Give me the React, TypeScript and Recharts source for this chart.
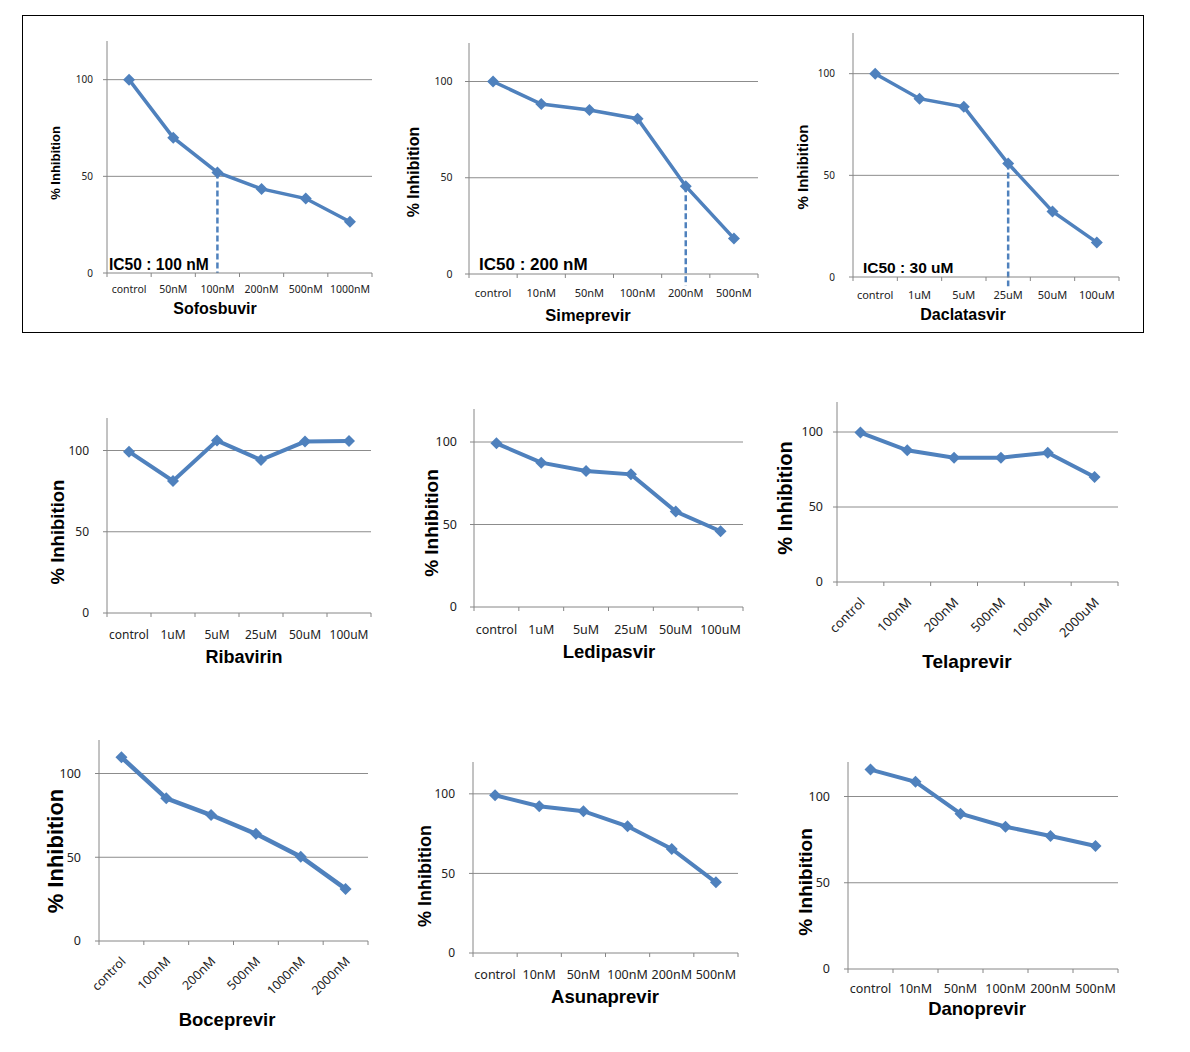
import React from 'react';
import { LineChart, Line, XAxis, YAxis, ReferenceLine } from 'recharts';

// ---------- data ----------
const sofosbuvirLabels = ['control', '50nM', '100nM', '200nM', '500nM', '1000nM'];
const sofosbuvirValues = [100, 70, 52, 43.5, 38.5, 26.5];
const sofosbuvirIC50 = 2;

const simeprevirLabels = ['control', '10nM', '50nM', '100nM', '200nM', '500nM'];
const simeprevirValues = [100, 88.3, 85.2, 80.7, 45.6, 18.5];
const simeprevirIC50 = 4;

const daclatasvirLabels = ['control', '1uM', '5uM', '25uM', '50uM', '100uM'];
const daclatasvirValues = [100, 87.7, 83.7, 55.8, 32.2, 17];
const daclatasvirIC50 = 3;

const ribavirinLabels = ['control', '1uM', '5uM', '25uM', '50uM', '100uM'];
const ribavirinValues = [99.3, 81.3, 106.1, 94.2, 105.5, 105.9];

const ledipasvirLabels = ['control', '1uM', '5uM', '25uM', '50uM', '100uM'];
const ledipasvirValues = [99.2, 87.5, 82.4, 80.4, 57.9, 45.9];

const telaprevirLabels = ['control', '100nM', '200nM', '500nM', '1000nM', '2000uM'];
const telaprevirValues = [99.6, 87.8, 82.9, 82.9, 86.2, 70];

const boceprevirLabels = ['control', '100nM', '200nM', '500nM', '1000nM', '2000nM'];
const boceprevirValues = [109.7, 85.2, 75.2, 64, 50.3, 31.1];

const asunaprevirLabels = ['control', '10nM', '50nM', '100nM', '200nM', '500nM'];
const asunaprevirValues = [99.1, 92.2, 89.1, 79.6, 65.4, 44.4];

const danoprevirLabels = ['control', '10nM', '50nM', '100nM', '200nM', '500nM'];
const danoprevirValues = [115.6, 108.5, 90, 82.5, 77.1, 71.3];

const yTicks = [0, 50, 100];
const gridValues = [50, 100];
const yMax = 120;

// ---------- style ----------
const BLUE = '#4F81BD';
const AXIS_GRAY = '#868686';
const GRID_GRAY = '#8C8C8C';
const TEXT = '#222';
const TICK_FONT = '"Noto Sans", "DejaVu Sans", sans-serif';
const BOLD_FONT = '"Liberation Sans", Arial, sans-serif';

const panels: any[] = [
  { title: 'Sofosbuvir', labels: sofosbuvirLabels, values: sofosbuvirValues, x: 107, y: 41, w: 265, h: 232,
    tickFont: 10.5, tickOffset: 16, yTickFont: 10, yTickGap: 10, lw: 3.5,
    ylabel: { cx: 55, cy: 163, size: 13 }, titlePos: { cx: 215, cy: 309, size: 16 },
    ic50: { idx: sofosbuvirIC50, text: 'IC50 : 100 nM', left: 109, cy: 265, size: 15.6, bottom: 0 } },
  { title: 'Simeprevir', labels: simeprevirLabels, values: simeprevirValues, x: 469, y: 43, w: 289, h: 231,
    tickFont: 11, tickOffset: 19, yTickFont: 10.5, yTickGap: 12.5, lw: 3.5,
    ylabel: { cx: 414, cy: 172, size: 16 }, titlePos: { cx: 588, cy: 315, size: 16.5 },
    ic50: { idx: simeprevirIC50, text: 'IC50 : 200 nM', left: 479, cy: 264, size: 17, bottom: -6 } },
  { title: 'Daclatasvir', labels: daclatasvirLabels, values: daclatasvirValues, x: 853, y: 33, w: 266, h: 244,
    tickFont: 11, tickOffset: 18, yTickFont: 10, yTickGap: 14, lw: 3.5,
    ylabel: { cx: 802, cy: 167, size: 15 }, titlePos: { cx: 963, cy: 315, size: 16 },
    ic50: { idx: daclatasvirIC50, text: 'IC50 : 30 uM', left: 863, cy: 268, size: 15.5, bottom: -4.5 } },
  { title: 'Ribavirin', labels: ribavirinLabels, values: ribavirinValues, x: 107, y: 418, w: 264, h: 195,
    tickFont: 12, tickOffset: 22, yTickFont: 12, yTickGap: 14, lw: 4,
    ylabel: { cx: 58, cy: 532, size: 18.5 }, titlePos: { cx: 244, cy: 657, size: 18 } },
  { title: 'Ledipasvir', labels: ledipasvirLabels, values: ledipasvirValues, x: 474, y: 409, w: 269, h: 198,
    tickFont: 12.5, tickOffset: 23, yTickFont: 12.5, yTickGap: 13, lw: 4,
    ylabel: { cx: 431, cy: 523, size: 19 }, titlePos: { cx: 609, cy: 652, size: 18.5 } },
  { title: 'Telaprevir', labels: telaprevirLabels, values: telaprevirValues, x: 837, y: 402, w: 281, h: 180,
    rotated: true, tickFont: 13, yTickFont: 12.5, yTickGap: 10, lw: 4,
    ylabel: { cx: 785, cy: 498, size: 20 }, titlePos: { cx: 967, cy: 661, size: 19 } },
  { title: 'Boceprevir', labels: boceprevirLabels, values: boceprevirValues, x: 99, y: 740, w: 269, h: 201,
    rotated: true, tickFont: 12.5, yTickFont: 12.5, yTickGap: 14, lw: 4.5,
    ylabel: { cx: 56, cy: 851, size: 22 }, titlePos: { cx: 227, cy: 1020, size: 18.5 } },
  { title: 'Asunaprevir', labels: asunaprevirLabels, values: asunaprevirValues, x: 473, y: 762, w: 265, h: 191,
    tickFont: 12.5, tickOffset: 22, yTickFont: 12, yTickGap: 14, lw: 4,
    ylabel: { cx: 425, cy: 876, size: 18 }, titlePos: { cx: 605, cy: 997, size: 18.5 } },
  { title: 'Danoprevir', labels: danoprevirLabels, values: danoprevirValues, x: 848, y: 762, w: 270, h: 207,
    tickFont: 12.5, tickOffset: 20, yTickFont: 12.5, yTickGap: 14, lw: 4,
    ylabel: { cx: 805, cy: 882, size: 19 }, titlePos: { cx: 977, cy: 1009, size: 18.5 } },
];

const xTicks = [0, 0.5, 1, 1.5, 2, 2.5, 3, 3.5, 4, 4.5, 5, 5.5, 6];

function Panel({ cfg }: { cfg: any }) {
  const ML = 60, MR = 10, MT = 10, XH = 70;
  const data = cfg.values.map((v: number, i: number) => ({ x: i + 0.5, y: v }));
  const width = cfg.w + ML + MR;
  const height = cfg.h + MT + XH;

  const renderTick = (props: any) => {
    const { x, y, payload } = props;
    const v = payload.value;
    if (Number.isInteger(v)) {
      return <line key={`t${v}`} x1={x} y1={y} x2={x} y2={y + 4} stroke={AXIS_GRAY} strokeWidth={1} />;
    }
    const label = cfg.labels[Math.floor(v)];
    if (cfg.rotated) {
      const tx = x + 2, ty = y + 18;
      return (
        <text key={`l${v}`} x={tx} y={ty} dy="0.35em" textAnchor="end" transform={`rotate(-45 ${tx} ${ty})`}
          fontFamily={TICK_FONT} fontSize={cfg.tickFont} fill={TEXT}>{label}</text>
      );
    }
    return (
      <text key={`l${v}`} x={x} y={y + cfg.tickOffset} dy="0.35em" textAnchor="middle"
        fontFamily={TICK_FONT} fontSize={cfg.tickFont} fill={TEXT}>{label}</text>
    );
  };

  const renderDot = (p: any) => {
    const s = 6;
    return (
      <path key={`d${p.index}`} d={`M${p.cx},${p.cy - s}L${p.cx + s},${p.cy}L${p.cx},${p.cy + s}L${p.cx - s},${p.cy}Z`} fill={BLUE} />
    );
  };

  const ic = cfg.ic50;
  return (
    <>
      <div style={{ position: 'absolute', left: cfg.x - ML, top: cfg.y - MT }}>
        <LineChart width={width} height={height} data={data} margin={{ top: MT, right: MR, left: 0, bottom: 0 }}>
          <XAxis dataKey="x" type="number" domain={[0, 6]} ticks={xTicks} interval={0} height={XH}
            tickLine={false} tickSize={0} tickMargin={0} axisLine={{ stroke: AXIS_GRAY }} tick={renderTick} />
          <YAxis type="number" domain={[0, yMax]} ticks={yTicks} width={ML} interval={0}
            axisLine={{ stroke: AXIS_GRAY }} tickLine={{ stroke: AXIS_GRAY }} tickSize={4} tickMargin={cfg.yTickGap}
            tick={{ fontFamily: TICK_FONT, fontSize: cfg.yTickFont, fill: TEXT }} />
          {gridValues.map((g) => (
            <ReferenceLine key={`g${g}`} y={g} stroke={GRID_GRAY} strokeWidth={1} />
          ))}
          {ic && (
            <ReferenceLine
              segment={[{ x: ic.idx + 0.5, y: cfg.values[ic.idx] }, { x: ic.idx + 0.5, y: ic.bottom }]}
              stroke={BLUE} strokeWidth={2.5} strokeDasharray="6 3" ifOverflow="visible" />
          )}
          <Line dataKey="y" stroke={BLUE} strokeWidth={cfg.lw} dot={renderDot} activeDot={false} isAnimationActive={false} />
        </LineChart>
      </div>
      <div style={{ position: 'absolute', left: cfg.ylabel.cx, top: cfg.ylabel.cy, transform: 'translate(-50%, -50%) rotate(-90deg)',
        whiteSpace: 'nowrap', fontFamily: BOLD_FONT, fontWeight: 'bold', fontSize: cfg.ylabel.size, color: '#000', lineHeight: 1 }}>
        % Inhibition
      </div>
      <div style={{ position: 'absolute', left: cfg.titlePos.cx, top: cfg.titlePos.cy, transform: 'translate(-50%, -50%)',
        whiteSpace: 'nowrap', fontFamily: BOLD_FONT, fontWeight: 'bold', fontSize: cfg.titlePos.size, color: '#000', lineHeight: 1 }}>
        {cfg.title}
      </div>
      {ic && (
        <div style={{ position: 'absolute', left: ic.left, top: ic.cy, transform: 'translateY(-50%)',
          whiteSpace: 'nowrap', fontFamily: BOLD_FONT, fontWeight: 'bold', fontSize: ic.size, color: '#000', lineHeight: 1 }}>
          {ic.text}
        </div>
      )}
    </>
  );
}

export default function App() {
  return (
    <div style={{ position: 'absolute', left: 0, top: 0, width: 1190, height: 1052, background: '#fff', overflow: 'hidden' }}>
      <div style={{ position: 'absolute', left: 22, top: 15, width: 1120, height: 316, border: '1px solid #000' }} />
      {panels.map((p, i) => <Panel key={i} cfg={p} />)}
    </div>
  );
}
